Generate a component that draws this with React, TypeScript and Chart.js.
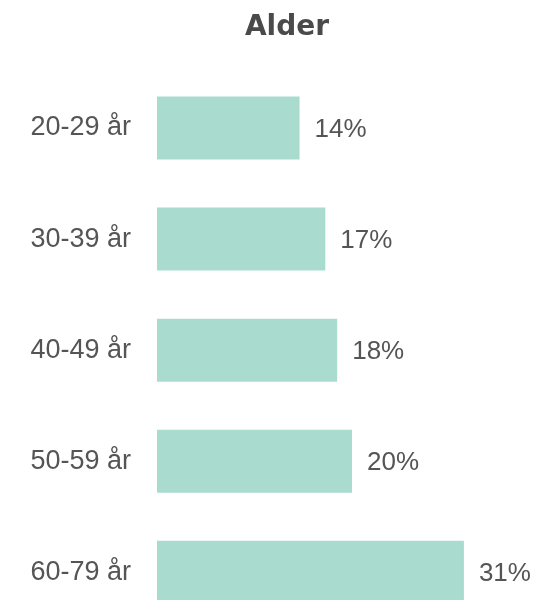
import React, { useEffect, useRef } from "react";
import { Chart, registerables } from "chart.js";

Chart.register(...registerables);

const categories = ["20-29 år", "30-39 år", "40-49 år", "50-59 år", "60-79 år"];
const values = [14.4, 17.0, 18.2, 19.7, 31.0];
const valueLabels = ["14%", "17%", "18%", "20%", "31%"];
const title = "Alder";

const TEXT = "#555555";
const BAR = "#a9dbcf";

export default function App() {
  const ref = useRef<HTMLCanvasElement>(null);

  useEffect(() => {
    document.documentElement.style.overflow = "hidden";
    document.body.style.overflow = "hidden";
    const canvas = ref.current!;
    const labelPlugin = {
      id: "valueLabels",
      afterDatasetsDraw(chart: any) {
        const ctx = chart.ctx;
        const meta = chart.getDatasetMeta(0);
        ctx.save();
        ctx.font = "26px 'Liberation Sans', Arial, sans-serif";
        ctx.fillStyle = TEXT;
        ctx.textAlign = "left";
        ctx.textBaseline = "middle";
        meta.data.forEach((bar: any, i: number) => {
          ctx.fillText(valueLabels[i], bar.x + 15, bar.y + 2);
        });
        ctx.restore();
      },
    };
    const titlePlugin = {
      id: "customTitle",
      afterDraw(chart: any) {
        const ctx = chart.ctx;
        ctx.save();
        ctx.font = "bold 28px 'DejaVu Sans', sans-serif";
        ctx.fillStyle = "#4a4a4a";
        ctx.textAlign = "center";
        ctx.textBaseline = "alphabetic";
        ctx.fillText(title, chart.width / 2 + 12.5, 27);
        ctx.restore();
      },
    };
    const chart = new Chart(canvas, {
      type: "bar",
      data: {
        labels: categories,
        datasets: [
          {
            data: values,
            backgroundColor: BAR,
            borderWidth: 0,
            categoryPercentage: 1,
            barPercentage: 0.567,
          },
        ],
      },
      options: {
        indexAxis: "y",
        responsive: false,
        animation: false,
        devicePixelRatio: 1,
        layout: { padding: { top: 64.5, bottom: 20, right: 37.5, left: 0 } },
        plugins: {
          legend: { display: false },
          title: { display: false },
          tooltip: { enabled: false },
        },
        scales: {
          x: { display: false, min: 0, max: 35 },
          y: {
            type: "category",
            grid: { display: false, drawTicks: false },
            border: { display: false },
            ticks: {
              color: TEXT,
              font: { size: 27, family: "'Liberation Sans', Arial, sans-serif" },
              padding: 26,
            },
            afterFit(scale: any) {
              scale.width = 149;
            },
          },
        },
      },
      plugins: [labelPlugin, titlePlugin],
    });
    return () => chart.destroy();
  }, []);

  return (
    <div style={{ width: 533, height: 592, overflow: "hidden" }}>
      <canvas ref={ref} width={533} height={662} />
    </div>
  );
}
